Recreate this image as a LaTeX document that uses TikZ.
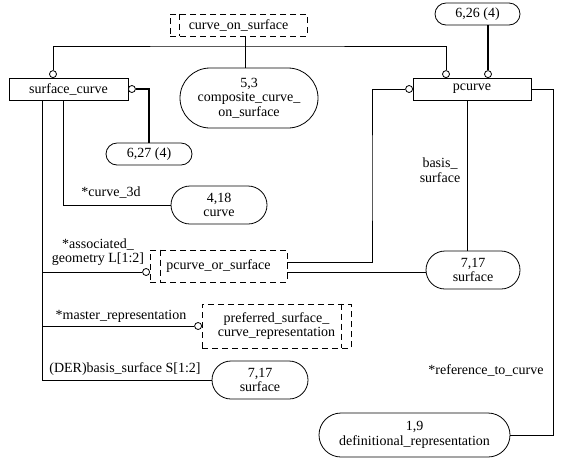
\documentclass[tikz,border=0pt]{standalone}
\usepackage{fontspec}
\setmainfont{Liberation Serif}
\usetikzlibrary{shapes.misc}

\begin{document}
\begin{tikzpicture}[x=1pt, y=-1pt, line width=0.8pt,
    every node/.style={font=\fontsize{14}{14.5}\selectfont, inner sep=0pt, align=center},
    ent/.style={draw, rectangle, minimum height=22pt},
    ref/.style={draw, rounded rectangle, minimum height=22pt},
    sel/.style={draw, dash pattern=on 6pt off 4pt},
    oc/.style={draw, circle, fill=white, minimum size=7pt},
    thk/.style={line width=2pt}]
    \useasboundingbox (0,0) rectangle (561,467);

    % Define nodes for the diagram
    \node[sel, minimum width=137pt, minimum height=22pt] (cos) at (238.5,25) {curve\_on\_surface};
    \node[ref, minimum width=138pt, minimum height=60pt] (ccos) at (249,98) {5,3\\composite\_curve\_\\on\_surface};
    \node[ent, minimum width=119pt] (sc) at (68.5,89) {surface\_curve};
    \node[ent, minimum width=118pt] (pc) at (472,89) {pcurve};
    \node[ref, minimum width=85pt] (r626) at (477.5,14) {6,26 (4)};
    \node[ref, minimum width=86pt] (r627) at (149,154) {6,27 (4)};
    \node[ref, minimum width=96pt, minimum height=38pt] (crv) at (219,205) {4,18\\curve};
    \node[sel, minimum width=137pt, minimum height=32pt] (pos) at (218.5,266) {pcurve\_or\_surface};
    \node[ref, minimum width=94pt, minimum height=38pt] (srf1) at (473,270) {7,17\\surface};
    \node[sel, minimum width=149pt, minimum height=44pt] (psc) at (276.5,326) {preferred\_surface\_\\curve\_representation};
    \node[ref, minimum width=96pt, minimum height=38pt] (srf2) at (260,380) {7,17\\surface};
    \node[ref, minimum width=191pt, minimum height=44pt] (defr) at (414.5,435) {1,9\\definitional\_representation};

    % the small circles
    \node[oc, anchor=south] (o1) at (53,78) {};
    \node[oc, anchor=south] (o2) at (446,78) {};
    \node[oc, anchor=south] (o3) at (488,78) {};
    \node[oc, anchor=west] (o4) at (128,89) {};
    \node[oc, anchor=east] (o5) at (150,272) {};
    \node[oc, anchor=east] (o6) at (202,326) {};
    \node[oc, anchor=east] (o7) at (413,89) {};

    \coordinate (bar) at (245,46);
    \coordinate (spine) at (42,0);
    \coordinate (bend) at (372,180);
    \coordinate (edge) at (553,300);

    % inner lines of the select boxes
    \draw[sel] ([xshift=10pt]cos.north west) -- ([xshift=10pt]cos.south west);
    \draw[sel] ([xshift=11pt]pos.north west) -- ([xshift=11pt]pos.south west);
    \draw[sel] ([xshift=-10pt]psc.north east) -- ([xshift=-10pt]psc.south east);

    % Draw the connections
    \draw (o1) |- (bar) -| (o2);
    \draw (cos.south -| bar) -- (ccos.north -| bar);
    \draw[thk] (r626.south -| o3) -- (o3);
    \draw[thk] (o4) -| (r627.north);
    \draw ([xshift=-5.5pt]sc.south) |- (crv.west);
    \draw (sc.south -| spine) |- (srf2.west);
    \draw (o5) -- (o5 -| spine);
    \draw (o6) -- (o6 -| spine);
    \draw ([yshift=4pt]pos.east) -| (bend) |- (o7);
    \draw ([yshift=-6pt]pos.east) -- ([yshift=-6pt]pos.east -| srf1.west);
    \draw ([xshift=-5pt]pc.south) -- ([xshift=-5pt]pc.south |- srf1.north);
    \draw (pc.east) -| (edge) |- (defr.east);

    % Draw the labels
    \node (l1) at (111,193) {*curve\_3d};
    \node (l2) at (98,252) {*associated\_\\geometry L[1:2]};
    \node (l3) at (121,316) {*master\_representation};
    \node (l4) at (125,369) {(DER)basis\_surface S[1:2]};
    \node (l5) at (440,170) {basis\_\\surface};
    \node (l6) at (486,370) {*reference\_to\_curve};
\end{tikzpicture}
\end{document}
